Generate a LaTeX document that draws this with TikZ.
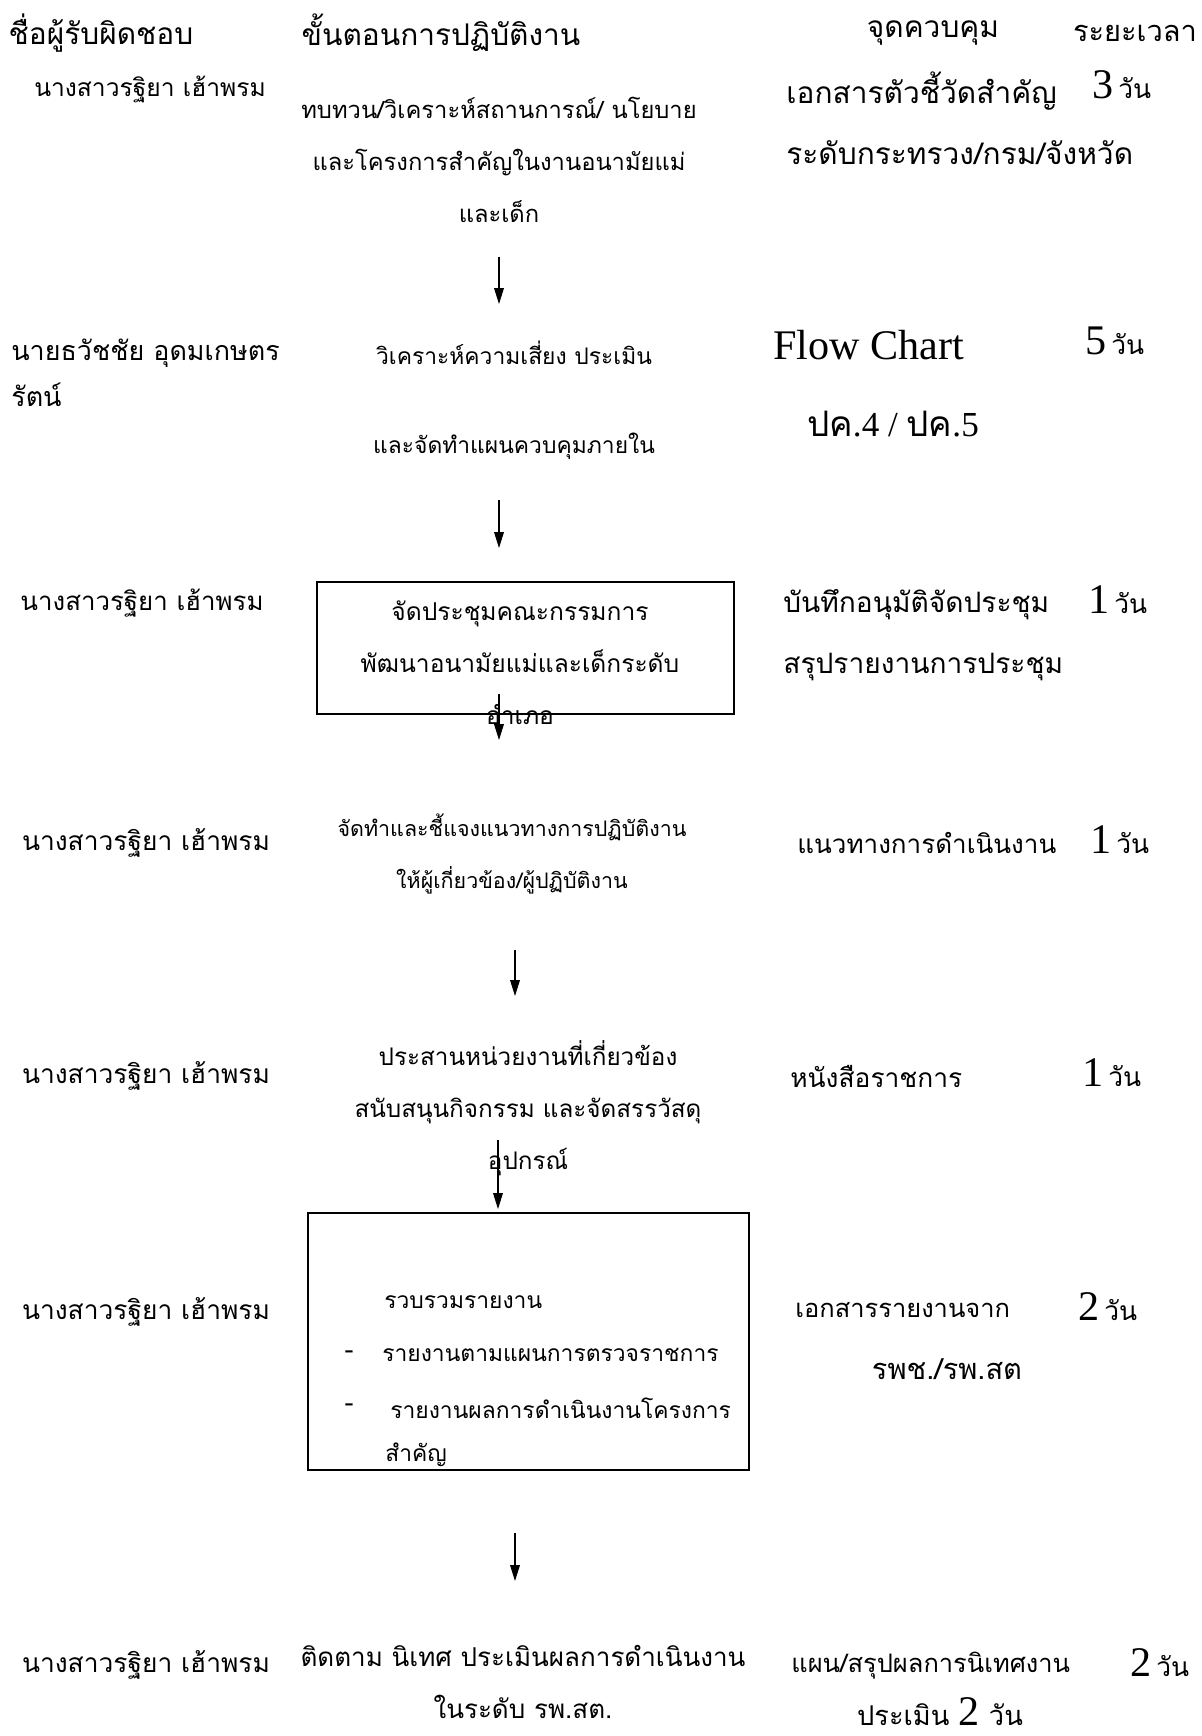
\documentclass[tikz,border=0pt]{standalone}
\usepackage{fontspec}
\setmainfont{Liberation Serif}
\newfontfamily\thai[Script=Thai]{Loma}
\usetikzlibrary{arrows.meta}
\newcommand\wan[1]{{\rmfamily\fontsize{24}{28}\selectfont #1}~{\thai\fontsize{15}{18}\selectfont วัน}}

\tikzset{
  sz/.style={font=\thai\fontsize{#1}{29.5}\selectfont},
  txt/.style={sz=13, inner sep=0pt, align=center},
  ctl/.style={txt, align=left, anchor=west},
  day/.style={inner sep=0pt, anchor=base},
  stepbox/.style={draw, line width=0.8pt, inner sep=0pt},
  flow/.style={-{Triangle[width=5.5pt,length=9pt]}, line width=0.6pt},
}

\begin{document}
\begin{tikzpicture}[x=0.02cm,y=-0.02cm]
\useasboundingbox (0,0) rectangle (1201,1736);

% header
\node[txt, sz=17] (hname) at (101,33) {ชื่อผู้รับผิดชอบ};
\node[txt, sz=17] (hstep) at (441,33) {ขั้นตอนการปฏิบัติงาน};
\node[txt, sz=17] (hctl) at (933,33) {จุดควบคุม};
\node[txt, sz=16.5] (htime) at (1135,33) {ระยะเวลา};

% step 1
\node[txt, sz=14] (n1) at (150,89) {นางสาวรฐิยา เฮ้าพรม};
\node[txt, sz=13.5] (s1) at (499,160) {ทบทวน/วิเคราะห์สถานการณ์/ นโยบาย\\และโครงการสำคัญในงานอนามัยแม่\\และเด็ก};
\node[ctl, sz=17] (c1) at (786,118) {เอกสารตัวชี้วัดสำคัญ\\[5pt]ระดับกระทรวง/กรม/จังหวัด};
\node[day] (t1) at (1122,99) {\wan{3}};
\coordinate (a1s) at (499,257);
\coordinate (a1e) at (499,304);
\draw[flow] (a1s) -- (a1e);

% step 2
\node[txt, sz=15.3, align=left, anchor=west] (n2) at (11,373) {นายธวัชชัย อุดมเกษตร\\[-3.5pt]รัตน์};
\node[txt] (s2) at (514,400) {วิเคราะห์ความเสี่ยง ประเมิน\\[21pt]และจัดทำแผนควบคุมภายใน};
\node[inner sep=0pt, font=\fontsize{24}{28}\selectfont] (c2) at (869,345) {Flow Chart};
\node[inner sep=0pt, font=\fontsize{20}{24}\selectfont] (c2b) at (893,424) {{\thai ปค}.4 / {\thai ปค}.5};
\node[day] (t2) at (1115,355) {\wan{5}};
\coordinate (a2s) at (499,500);
\coordinate (a2e) at (499,548);
\draw[flow] (a2s) -- (a2e);

% step 3
\node[txt, sz=14.7] (n3) at (142,603) {นางสาวรฐิยา เฮ้าพรม};
\node[stepbox, minimum width=8.34cm, minimum height=2.64cm] (b3) at (525.5,648) {};
\node[txt, sz=14] (s3) at (520,663) {จัดประชุมคณะกรรมการ\\พัฒนาอนามัยแม่และเด็กระดับ\\อำเภอ};
\node[ctl, sz=16] (c3) at (783,635) {บันทึกอนุมัติจัดประชุม\\[5pt]สรุปรายงานการประชุม};
\node[day] (t3) at (1118,613) {\wan{1}};
\coordinate (a3s) at (499,694);
\coordinate (a3e) at (499,740);
\draw[flow] (a3s) -- (a3e);

% step 4
\node[txt, sz=15] (n4) at (146,843) {นางสาวรฐิยา เฮ้าพรม};
\node[txt, sz=12.2] (s4) at (512,854) {จัดทำและชี้แจงแนวทางการปฏิบัติงาน\\ให้ผู้เกี่ยวข้อง/ผู้ปฏิบัติงาน};
\node[ctl, sz=14.8] (c4) at (797,843) {แนวทางการดำเนินงาน};
\node[day] (t4) at (1120,853) {\wan{1}};
\coordinate (a4s) at (515,950);
\coordinate (a4e) at (515,996);
\draw[flow] (a4s) -- (a4e);

% step 5
\node[txt, sz=15] (n5) at (146,1076) {นางสาวรฐิยา เฮ้าพรม};
\node[txt, sz=13.8] (s5) at (528,1108) {ประสานหน่วยงานที่เกี่ยวข้อง\\สนับสนุนกิจกรรม และจัดสรรวัสดุ\\อุปกรณ์};
\node[ctl, sz=15] (c5) at (790,1076) {หนังสือราชการ};
\node[day] (t5) at (1112,1086) {\wan{1}};
\coordinate (a5s) at (498,1140);
\coordinate (a5e) at (498,1209);
\draw[flow] (a5s) -- (a5e);

% step 6
\node[txt, sz=15] (n6) at (146,1312) {นางสาวรฐิยา เฮ้าพรม};
\node[stepbox, minimum width=8.82cm, minimum height=5.14cm] (b6) at (528.5,1341.5) {};
\node[ctl] (s6) at (384,1302) {รวบรวมรายงาน};
\node[inner sep=0pt, font=\fontsize{16}{18}\selectfont] (d6a) at (349,1355) {-};
\node[ctl] (s6a) at (382,1355) {รายงานตามแผนการตรวจราชการ};
\node[inner sep=0pt, font=\fontsize{16}{18}\selectfont] (d6b) at (349,1408) {-};
\node[ctl] (s6b) at (390,1408) {รายงานผลการดำเนินงานโครงการ};
\node[ctl] (s6c) at (385,1455) {สำคัญ};
\node[ctl, sz=14.5] (c6) at (795,1310) {เอกสารรายงานจาก};
\node[txt, sz=16.5] (c6b) at (947,1369) {รพช./รพ.สต};
\node[day] (t6) at (1108,1320) {\wan{2}};
\coordinate (a6s) at (515,1533);
\coordinate (a6e) at (515,1581);
\draw[flow] (a6s) -- (a6e);

% step 7
\node[txt, sz=15] (n7) at (146,1665) {นางสาวรฐิยา เฮ้าพรม};
\node[txt, sz=14.8] (s7) at (523,1682) {ติดตาม นิเทศ ประเมินผลการดำเนินงาน\\ในระดับ รพ.สต.};
\node[ctl, sz=14.5] (c7) at (791,1666) {แผน/สรุปผลการนิเทศงาน};
\node[day] (t7) at (1160,1676) {\wan{2}};
\node[txt, sz=15.5] (c7b) at (940,1712) {ประเมิน {\rmfamily\fontsize{24}{28}\selectfont 2} วัน};
\end{tikzpicture}
\end{document}
